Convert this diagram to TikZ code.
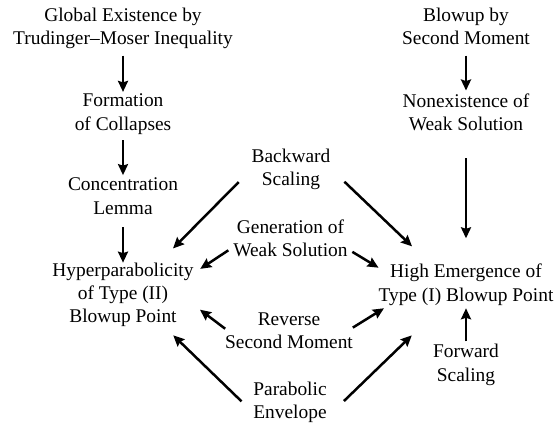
\documentclass[tikz,border=0pt]{standalone}
\usepackage{fontspec}
\setmainfont{Liberation Serif}
\usetikzlibrary{arrows.meta}

\begin{document}
\begin{tikzpicture}[x=1pt,y=-1pt,>={Stealth[length=11pt,width=10pt,inset=1.5pt]},
  box/.style={align=center,inner sep=0pt,outer sep=0pt,
    font=\fontsize{19.4}{23.3}\selectfont,
    execute at begin node=\strut,execute at end node=\strut},
  arr/.style={->,line width=2.5pt,shorten <=4pt,shorten >=2pt}]
  \useasboundingbox (0,0) rectangle (556,425);
  \node[box] (ge) at (123,29.7) {Global Existence by\\Trudinger–Moser Inequality};
  \node[box] (fc) at (123,115.5) {Formation\\of Collapses};
  \node[box] (cl) at (123,199.7) {Concentration\\Lemma};
  \node[box] (hp) at (123,296.2) {Hyperparabolicity\\of Type (II)\\Blowup Point};
  \node[box] (bm) at (466,29.7) {Blowup by\\Second Moment};
  \node[box] (ne) at (466,115.5) {Nonexistence of\\Weak Solution};
  \node[box] (bs) at (291,171) {Backward\\Scaling};
  \node[box] (gw) at (290.5,242) {Generation of\\Weak Solution};
  \node[box] (he) at (466,286.3) {High Emergence of\\Type (I) Blowup Point};
  \node[box] (rs) at (289,334.3) {Reverse\\Second Moment};
  \node[box] (fs) at (466,366.3) {Forward\\Scaling};
  \node[box] (pe) at (290,403.7) {Parabolic\\Envelope};
  \draw[arr] (ge) -- (fc);
  \draw[arr,shorten <=3pt,shorten >=3pt] (fc) -- (cl);
  \draw[arr,shorten <=6pt,shorten >=0pt] (cl) -- (hp);
  \draw[arr,shorten >=3pt] (bm) -- (ne);
  \draw[arr,shorten <=21pt,shorten >=26pt] (ne) -- (he);
  \draw[arr,shorten <=3pt,shorten >=0pt] (fs) -- (he);
  \draw[arr,shorten <=18.5pt,shorten >=20pt] (bs.177) -- (hp.43);
  \draw[arr,shorten <=19.5pt,shorten >=26pt] (bs.4) -- (he.148);
  \draw[arr,shorten <=6pt,shorten >=8pt] (gw.185) -- (hp.18);
  \draw[arr,shorten <=5.5pt,shorten >=0pt] (gw.353) -- (he.168);
  \draw[arr,shorten <=0pt,shorten >=8pt] (rs.175) -- (hp.353);
  \draw[arr,shorten <=0pt,shorten >=0pt] (rs.6) -- (he.195);
  \draw[arr,shorten <=16.5pt,shorten >=8pt] (pe.194) -- (hp.323);
  \draw[arr,shorten <=24pt,shorten >=39pt] (pe.339) -- (he.220);
\end{tikzpicture}
\end{document}
